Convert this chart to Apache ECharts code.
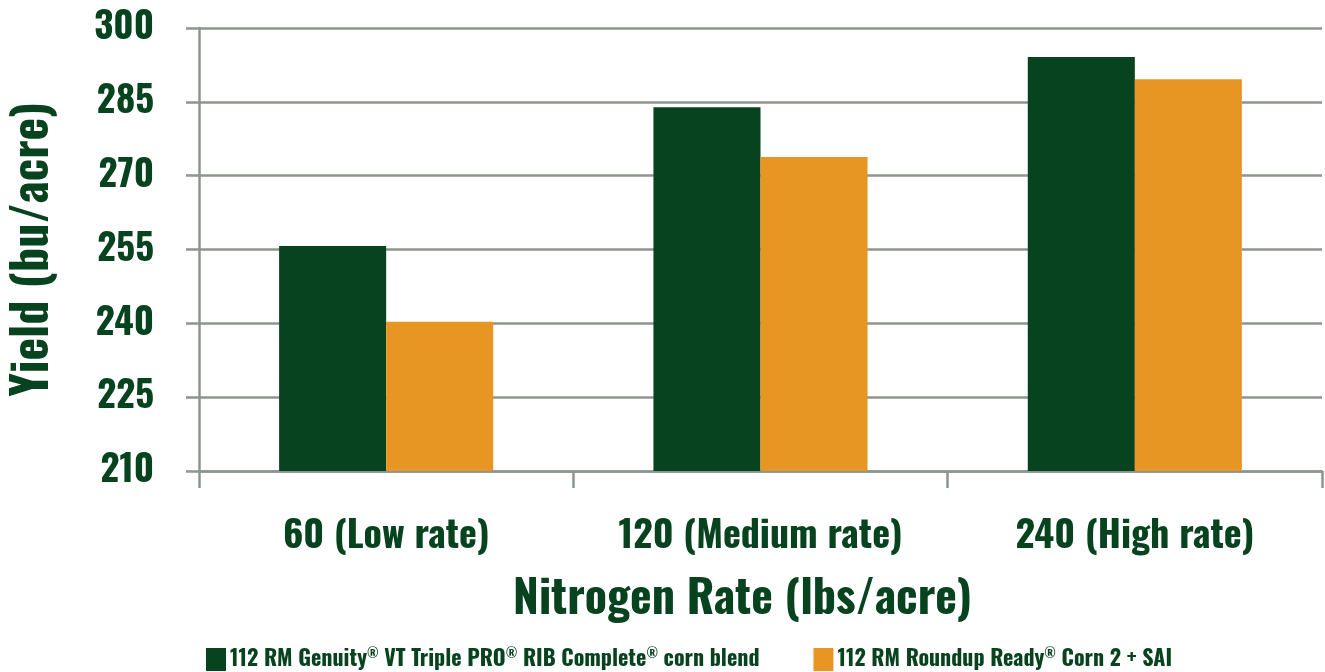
<!DOCTYPE html>
<html>
<head>
<meta charset="utf-8">
<script src="https://cdn.jsdelivr.net/npm/echarts@6/dist/echarts.min.js"></script>
<style>
  html, body { margin: 0; padding: 0; background: #ffffff; }
  #chart { width: 1325px; height: 672px; }
</style>
</head>
<body>
<div id="chart"></div>
<script>
// Nitrogen rate categories
const categories = ['60 (Low rate)', '120 (Medium rate)', '240 (High rate)'];

// Yield per hybrid (bu/acre)
const genuityYield = [255.7, 283.9, 294.1];
const roundupYield = [240.3, 273.8, 289.6];

// Y axis range and step
const yMin = 210;
const yMax = 300;
const yStep = 15;

const seriesNames = [
  '112 RM Genuity® VT Triple PRO® RIB Complete® corn blend',
  '112 RM Roundup Ready® Corn 2 + SAI'
];

const GREEN = '#08431F';
const ORANGE = '#E89623';
const GRID = '#8C968E';
const FONT = 'Oswald, "Roboto Condensed", sans-serif';

// raise the ® marks in legend labels
function superReg(s) {
  return s.replace(/®/g, '{r|®}');
}

const chart = echarts.init(document.getElementById('chart'));

chart.setOption({
  backgroundColor: '#ffffff',
  animation: false,
  grid: { left: 199, right: 3, top: 28, bottom: 201 },
  legend: {
    left: 201,
    top: 643,
    itemWidth: 20,
    itemHeight: 23,
    itemGap: 54,
    icon: 'rect',
    data: seriesNames,
    formatter: superReg,
    textStyle: {
      fontFamily: FONT,
      fontWeight: 'bold',
      fontSize: 22,
      color: GREEN,
      padding: [0, 0, 0, -1],
      rich: {
        r: {
          fontFamily: FONT,
          fontWeight: 'bold',
          fontSize: 13,
          color: GREEN,
          verticalAlign: 'top',
          padding: [0, 0, 10, 0]
        }
      }
    }
  },
  xAxis: {
    type: 'category',
    data: categories,
    name: 'Nitrogen Rate (lbs/acre)',
    nameLocation: 'middle',
    nameGap: 106,
    nameTextStyle: {
      fontFamily: FONT,
      fontWeight: 'bold',
      fontSize: 46,
      color: GREEN,
      padding: [0, 36, 0, 0]
    },
    axisLine: { show: true, lineStyle: { color: GRID, width: 2.5 } },
    axisTick: { show: true, length: 17, lineStyle: { color: GRID, width: 2.5 } },
    axisLabel: {
      interval: 0,
      margin: 46,
      fontFamily: FONT,
      fontWeight: 'bold',
      fontSize: 38,
      color: GREEN
    }
  },
  yAxis: {
    type: 'value',
    min: yMin,
    max: yMax,
    interval: yStep,
    name: 'Yield (bu/acre)',
    nameLocation: 'middle',
    nameGap: 142,
    nameTextStyle: {
      fontFamily: FONT,
      fontWeight: 'bold',
      fontSize: 48,
      color: GREEN
    },
    axisLine: { show: true, lineStyle: { color: GRID, width: 2.5 } },
    axisTick: { show: true, length: 13, lineStyle: { color: GRID, width: 2.5 } },
    axisLabel: {
      margin: 45,
      fontFamily: FONT,
      fontWeight: 'bold',
      fontSize: 37,
      color: GREEN,
      padding: [6, 0, 0, 0]
    },
    splitLine: { show: true, lineStyle: { color: GRID, width: 2.5 } }
  },
  series: [
    {
      name: seriesNames[0],
      type: 'bar',
      data: genuityYield,
      barWidth: '28.6%',
      barGap: '0%',
      itemStyle: { color: GREEN }
    },
    {
      name: seriesNames[1],
      type: 'bar',
      data: roundupYield,
      barWidth: '28.6%',
      barGap: '0%',
      itemStyle: { color: ORANGE }
    }
  ]
});
</script>
</body>
</html>
